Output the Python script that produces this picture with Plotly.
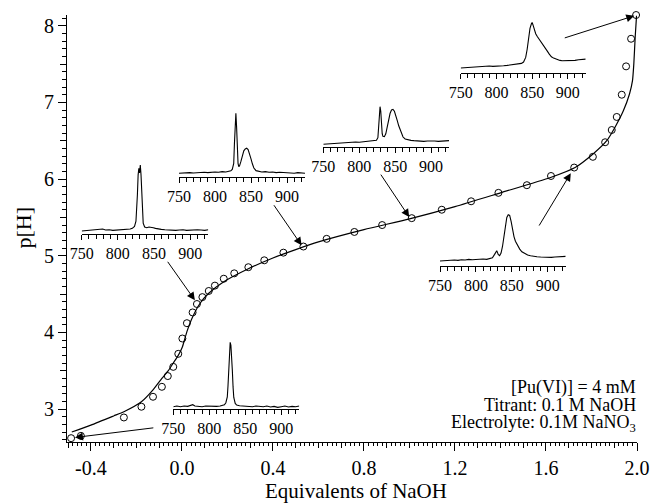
import plotly.graph_objects as go

# ---------------- data ----------------
eq_points = [-0.487, -0.444, -0.255, -0.178, -0.127, -0.088, -0.062, -0.038, -0.016, 0.002,
             0.022, 0.047, 0.066, 0.090, 0.118, 0.145, 0.184, 0.230, 0.292, 0.362,
             0.446, 0.534, 0.636, 0.758, 0.880, 1.010, 1.142, 1.271, 1.391, 1.516,
             1.622, 1.724, 1.806, 1.860, 1.889, 1.911, 1.933, 1.952, 1.974, 1.996]
ph_points = [2.62, 2.65, 2.89, 3.03, 3.16, 3.29, 3.43, 3.55, 3.72, 3.92,
             4.12, 4.26, 4.37, 4.46, 4.54, 4.61, 4.70, 4.77, 4.85, 4.94,
             5.04, 5.12, 5.22, 5.31, 5.40, 5.49, 5.60, 5.71, 5.82, 5.92,
             6.04, 6.15, 6.29, 6.48, 6.64, 6.81, 7.10, 7.47, 7.83, 8.14]

eq_model = [-0.484, -0.40, -0.30, -0.255, -0.178, -0.127, -0.088, -0.060, -0.038, -0.016,
            0.002, 0.022, 0.047, 0.080, 0.118, 0.184, 0.292, 0.40, 0.50, 0.60,
            0.80, 1.00, 1.20, 1.40, 1.62, 1.728, 1.808, 1.867, 1.904, 1.940,
            1.967, 1.980, 1.986, 1.992, 1.998]
ph_model = [2.70, 2.79, 2.91, 2.965, 3.095, 3.25, 3.40, 3.50, 3.60, 3.70,
            3.81, 4.01, 4.20, 4.38, 4.51, 4.66, 4.83, 4.97, 5.08, 5.18,
            5.34, 5.48, 5.64, 5.82, 6.02, 6.15, 6.33, 6.50, 6.68, 6.89,
            7.11, 7.28, 7.50, 7.85, 8.13]

x_tick_vals = [-0.4, 0.0, 0.4, 0.8, 1.2, 1.6, 2.0]
x_tick_text = ["-0.4", "0.0", "0.4", "0.8", "1.2", "1.6", "2.0"]
y_tick_vals = [3, 4, 5, 6, 7, 8]
y_tick_text = ["3", "4", "5", "6", "7", "8"]

spec_tick_vals = [750, 800, 850, 900]
spec_tick_text = ["750", "800", "850", "900"]

# spectra (wavelength nm, relative absorbance)
wl_a = [750, 755, 760, 765, 770, 775, 777, 780, 785, 790, 795, 800, 805, 810, 815, 818, 821, 823, 825, 826,
        827, 828, 829, 830, 831, 832, 833, 834, 836, 838, 842, 846, 850, 855, 860, 865, 870, 875, 880, 885,
        890, 895, 900, 905, 910, 915, 920, 925]
ab_a = [0.00, 0.01, 0.00, 0.01, 0.005, 0.02, 0.03, 0.01, 0.005, 0.0, 0.01, 0.005, 0.01, 0.005, 0.01, 0.015, 0.03, 0.06, 0.15, 0.32,
        0.62, 0.90, 0.975, 0.93, 0.80, 0.55, 0.30, 0.14, 0.05, 0.025, 0.015, 0.01, 0.005, 0.01, 0.0, 0.01, 0.005, 0.0, 0.01, -0.005,
        0.005, -0.01, 0.0, 0.01, -0.005, 0.005, 0.0, 0.01]

wl_b = [750, 755, 760, 765, 770, 775, 779, 783, 788, 793, 798, 803, 808, 813, 817, 820, 823, 825, 826, 827,
        828, 829, 830, 831, 832, 833, 834, 835, 837, 840, 843, 846, 849, 852, 856, 860, 865, 870, 875, 880,
        885, 890, 895, 900, 905, 910, 915, 920, 925]
ab_b = [0.0, 0.005, 0.01, 0.005, 0.015, 0.02, 0.03, 0.015, 0.02, 0.01, 0.015, 0.01, 0.02, 0.02, 0.03, 0.04, 0.07, 0.15, 0.3, 0.55,
        0.85, 0.95, 0.88, 1.0, 0.85, 0.55, 0.25, 0.12, 0.06, 0.05, 0.06, 0.06, 0.05, 0.04, 0.03, 0.025, 0.02, 0.015, 0.02, 0.01,
        0.015, 0.02, 0.01, 0.015, 0.01, 0.02, 0.015, 0.01, 0.02]

wl_c = [750, 755, 760, 765, 770, 775, 780, 785, 790, 795, 800, 805, 810, 815, 819, 822, 824, 826, 827, 828,
        829, 830, 831, 832, 833, 834, 836, 838, 840, 842, 844, 846, 848, 850, 852, 854, 857, 860, 865, 870,
        875, 880, 885, 890, 895, 900, 905, 910, 915, 920, 925]
ab_c = [0.0, 0.005, 0.0, 0.01, 0.005, 0.01, 0.01, 0.015, 0.01, 0.02, 0.02, 0.015, 0.025, 0.02, 0.03, 0.04, 0.06, 0.15, 0.45, 0.8,
        0.91, 0.7, 0.35, 0.15, 0.1, 0.11, 0.18, 0.28, 0.34, 0.37, 0.38, 0.36, 0.3, 0.22, 0.14, 0.08, 0.04, 0.03, 0.02, 0.025,
        0.015, 0.02, 0.01, 0.015, 0.01, 0.005, 0.01, 0.0, 0.01, 0.005, 0.0]

wl_d = [750, 755, 760, 765, 770, 775, 780, 785, 790, 795, 800, 805, 810, 815, 820, 824, 826, 827, 828, 829,
        830, 831, 832, 833, 835, 837, 839, 841, 843, 845, 847, 849, 851, 853, 855, 858, 861, 864, 868, 872,
        876, 880, 885, 890, 895, 900, 905, 910, 915, 920, 925]
ab_d = [0.0, 0.005, 0.01, 0.01, 0.015, 0.02, 0.025, 0.03, 0.04, 0.035, 0.03, 0.035, 0.04, 0.04, 0.05, 0.06, 0.1, 0.25, 0.45, 0.57,
        0.5, 0.3, 0.16, 0.12, 0.115, 0.16, 0.26, 0.38, 0.47, 0.52, 0.53, 0.5, 0.44, 0.36, 0.28, 0.18, 0.11, 0.08, 0.065, 0.06,
        0.055, 0.05, 0.05, 0.045, 0.05, 0.055, 0.05, 0.045, 0.05, 0.055, 0.055]

wl_e = [750, 755, 760, 765, 770, 775, 780, 785, 790, 795, 800, 805, 810, 815, 820, 823, 826, 828, 829, 830,
        831, 833, 835, 837, 839, 841, 843, 845, 847, 849, 851, 853, 855, 858, 861, 864, 868, 872, 876, 880,
        885, 890, 895, 900, 905, 910, 915, 920, 925]
ab_e = [0.0, 0.005, 0.01, 0.005, 0.015, 0.01, 0.02, 0.015, 0.025, 0.02, 0.025, 0.02, 0.03, 0.025, 0.035, 0.05, 0.1, 0.15, 0.155, 0.13,
        0.1, 0.08, 0.12, 0.22, 0.38, 0.55, 0.66, 0.7, 0.69, 0.6, 0.47, 0.37, 0.3, 0.23, 0.18, 0.14, 0.11, 0.09, 0.08, 0.07,
        0.065, 0.06, 0.055, 0.06, 0.055, 0.06, 0.065, 0.06, 0.07]

wl_f = [750, 755, 760, 765, 770, 775, 780, 785, 790, 795, 800, 805, 810, 815, 820, 825, 830, 835, 838, 841,
        843, 845, 847, 849, 850, 851, 853, 855, 857, 859, 862, 865, 868, 871, 874, 877, 880, 883, 886, 889,
        892, 896, 900, 905, 910, 915, 920, 925]
ab_f = [0.0, 0.005, 0.0, 0.01, 0.01, 0.015, 0.02, 0.025, 0.03, 0.025, 0.025, 0.03, 0.035, 0.04, 0.045, 0.05, 0.06, 0.07, 0.09, 0.16,
        0.28, 0.45, 0.6, 0.67, 0.69, 0.66, 0.58, 0.52, 0.48, 0.45, 0.41, 0.36, 0.31, 0.26, 0.21, 0.17, 0.15, 0.135, 0.12, 0.115,
        0.11, 0.11, 0.115, 0.12, 0.115, 0.125, 0.13, 0.135]

# arrows: (tail eq, tail pH, head eq, head pH)
arrow_tail_eq = [-0.119, -0.067, 0.400, 0.870, 1.566, 1.676]
arrow_tail_ph = [2.757, 4.940, 5.678, 6.077, 5.374, 7.835]
arrow_head_eq = [-0.470, 0.057, 0.526, 0.999, 1.709, 1.988]
arrow_head_ph = [2.629, 4.419, 5.135, 5.504, 6.077, 8.13]

info_lines = ["[Pu(VI)] = 4 mM", "Titrant: 0.1 M NaOH", "Electrolyte: 0.1M NaNO<sub>3</sub>"]

# ---------------- layout geometry (pixels) ----------------
W, H = 652, 504
ML, MR, MT, MB = 67, 15, 15, 62
PW, PH = W - ML - MR, H - MT - MB
PLOT_BOTTOM = H - MB


def xp(px):
    return (px - ML) / PW


def yp(py):
    return (PLOT_BOTTOM - py) / PH


FONT = "Liberation Serif, Times New Roman, serif"
SCALE = 66.0  # pixels per absorbance unit in the insets

# inset placement: left px, right px, axis line py, gap between axis and baseline px
insets = [
    (wl_a, ab_a, 173.3, 299.3, 409.0, 2.3),
    (wl_b, ab_b, 81.7, 208.3, 234.0, 3.0),
    (wl_c, ab_c, 179.0, 305.0, 176.7, 3.4),
    (wl_d, ab_d, 323.3, 449.0, 146.7, 2.4),
    (wl_e, ab_e, 440.0, 565.7, 265.7, 4.7),
    (wl_f, ab_f, 460.7, 585.7, 72.7, 4.7),
]

fig = go.Figure()

fig.add_trace(go.Scatter(x=eq_model, y=ph_model, mode="lines",
                         line=dict(color="black", width=1.2, shape="spline", smoothing=0.6),
                         hoverinfo="skip", cliponaxis=False))
fig.add_trace(go.Scatter(x=eq_points, y=ph_points, mode="markers",
                         marker=dict(symbol="circle-open", size=7, color="black", line=dict(width=1)),
                         cliponaxis=False))

x_range = [-0.505, 2.0]
y_range = [2.57, 8.14]

layout = dict(
    width=W, height=H, template="none",
    margin=dict(l=ML, r=MR, t=MT, b=MB, pad=0),
    paper_bgcolor="white", plot_bgcolor="rgba(0,0,0,0)",
    showlegend=False,
    font=dict(family=FONT, color="black", size=20),
    xaxis=dict(domain=[0, 1], anchor="y", range=x_range, showgrid=False, zeroline=False,
               showline=True, linecolor="black", linewidth=1,
               tickvals=x_tick_vals, ticktext=x_tick_text, ticks="outside", ticklen=8, tickwidth=1,
               tickcolor="black", tickfont=dict(size=20, family=FONT),
               minor=dict(dtick=0.02, tick0=0, ticks="outside", ticklen=3, tickwidth=1, tickcolor="black"),
               automargin=False),
    yaxis=dict(domain=[0, 1], anchor="x", range=y_range, showgrid=False, zeroline=False,
               showline=True, linecolor="black", linewidth=1,
               tickvals=y_tick_vals, ticktext=y_tick_text, ticks="outside", ticklen=8, tickwidth=1,
               tickcolor="black", tickfont=dict(size=20, family=FONT),
               minor=dict(dtick=0.1, tick0=0, ticks="outside", ticklen=4, tickwidth=1, tickcolor="black"),
               automargin=False),
    xaxis8=dict(overlaying="x", anchor="y", range=x_range, showgrid=False, zeroline=False, showline=False,
                dtick=0.1, tick0=0, ticks="outside", ticklen=5, tickwidth=1, tickcolor="black",
                showticklabels=False, automargin=False),
    yaxis8=dict(overlaying="y", anchor="x", side="left", range=y_range, showgrid=False, zeroline=False,
                showline=False, dtick=0.5, tick0=0, ticks="outside", ticklen=6, tickwidth=1,
                tickcolor="black", showticklabels=False, automargin=False),
)
fig.add_trace(go.Scatter(x=[], y=[], xaxis="x8", yaxis="y", hoverinfo="skip"))
fig.add_trace(go.Scatter(x=[], y=[], xaxis="x", yaxis="y8", hoverinfo="skip"))

for i, (wl, ab, left, right, axis_py, gap) in enumerate(insets):
    n = i + 2
    ymin = -gap / SCALE
    ymax = max(ab) + 0.03
    top_py = axis_py - (ymax - ymin) * SCALE
    layout[f"xaxis{n}"] = dict(domain=[xp(left), xp(right)], anchor=f"y{n}", range=[750, 925],
                               showgrid=False, zeroline=False, showline=True, linecolor="black", linewidth=1,
                               tickvals=spec_tick_vals, ticktext=spec_tick_text, ticks="outside",
                               ticklen=5, tickwidth=1, tickcolor="black",
                               tickfont=dict(size=16, family=FONT),
                               minor=dict(dtick=10, tick0=750, ticks="outside", ticklen=4,
                                          tickwidth=1, tickcolor="black"),
                               automargin=False)
    layout[f"yaxis{n}"] = dict(domain=[yp(axis_py), yp(top_py)], anchor=f"x{n}", range=[ymin, ymax],
                               visible=False, automargin=False)
    fig.add_trace(go.Scatter(x=wl, y=ab, mode="lines", xaxis=f"x{n}", yaxis=f"y{n}",
                             line=dict(color="black", width=1.1), hoverinfo="skip", cliponaxis=False))

annotations = []
for te, tp, he, hp in zip(arrow_tail_eq, arrow_tail_ph, arrow_head_eq, arrow_head_ph):
    annotations.append(dict(x=he, y=hp, xref="x", yref="y", ax=te, ay=tp, axref="x", ayref="y",
                            text="", showarrow=True, arrowhead=2, arrowsize=1.6, arrowwidth=1,
                            arrowcolor="black", standoff=0, startstandoff=0))

info_centers = [387.8, 404.8, 423.5]
for line, cy in zip(info_lines, info_centers):
    annotations.append(dict(x=xp(637), y=yp(cy), xref="paper", yref="paper", text=line,
                            showarrow=False, xanchor="right", yanchor="middle",
                            font=dict(size=18, family=FONT, color="black"), borderpad=0))

annotations.append(dict(x=xp(356), y=yp(491), xref="paper", yref="paper", text="Equivalents of NaOH",
                        showarrow=False, xanchor="center", yanchor="middle",
                        font=dict(size=21, family=FONT, color="black")))
annotations.append(dict(x=xp(23), y=yp(227.5), xref="paper", yref="paper", text="p[H]", textangle=-90,
                        showarrow=False, xanchor="center", yanchor="middle",
                        font=dict(size=22, family=FONT, color="black")))

layout["annotations"] = annotations
fig.update_layout(**layout)

fig.write_html("out.html", config={"displayModeBar": False, "staticPlot": False},
               post_script="document.body.style.margin='0';document.body.style.padding='0';")
